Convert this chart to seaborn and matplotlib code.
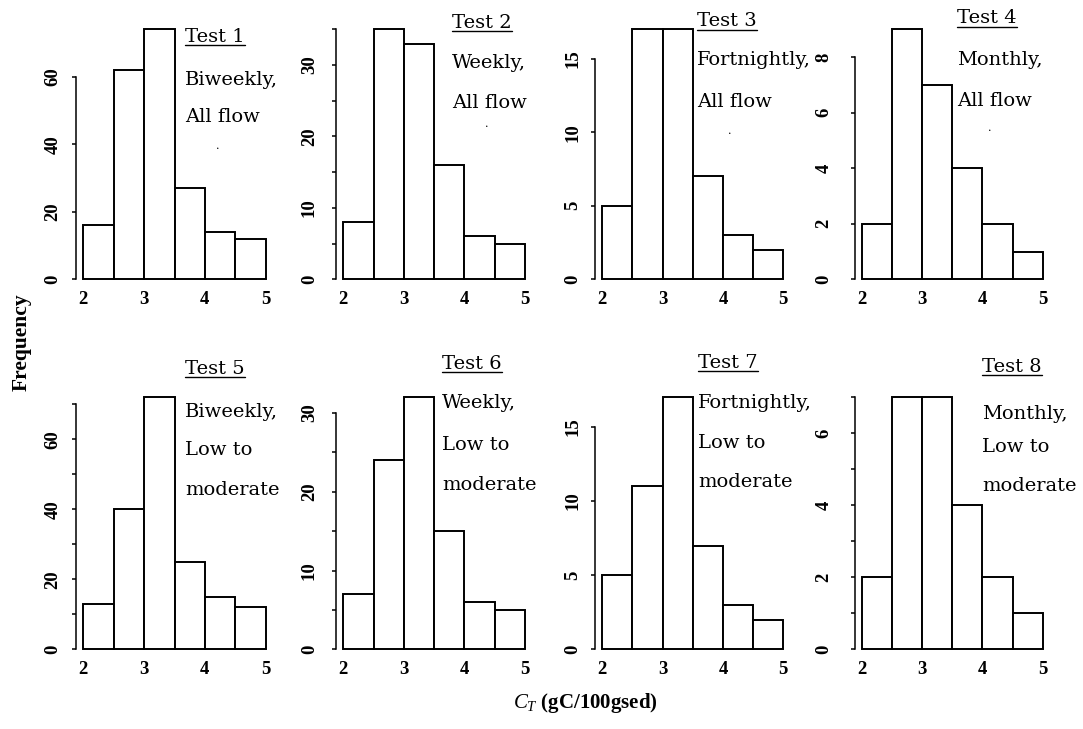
import matplotlib
matplotlib.use("Agg")
import numpy as np
import seaborn as sns
import matplotlib.pyplot as plt
from matplotlib.lines import Line2D

# ---- data -------------------------------------------------------------
bin_edges = [2.0, 2.5, 3.0, 3.5, 4.0, 4.5, 5.0]
x_tick_values = [2, 3, 4, 5]

test1 = [16, 62, 74, 27, 14, 12]
test2 = [8, 35, 33, 16, 6, 5]
test3 = [5, 17, 17, 7, 3, 2]
test4 = [2, 9, 7, 4, 2, 1]
test5 = [13, 40, 72, 25, 15, 12]
test6 = [7, 24, 32, 15, 6, 5]
test7 = [5, 11, 17, 7, 3, 2]
test8 = [2, 7, 7, 4, 2, 1]
counts = [test1, test2, test3, test4, test5, test6, test7, test8]

titles = ["Test 1", "Test 2", "Test 3", "Test 4",
          "Test 5", "Test 6", "Test 7", "Test 8"]
notes = [["Biweekly,", "All flow"], ["Weekly,", "All flow"],
         ["Fortnightly,", "All flow"], ["Monthly,", "All flow"],
         ["Biweekly,", "Low to", "moderate"], ["Weekly,", "Low to", "moderate"],
         ["Fortnightly,", "Low to", "moderate"], ["Monthly,", "Low to", "moderate"]]

# y axis: tick step, label step and last tick of each panel
y_tick_step = [20, 5, 5, 2, 10, 5, 5, 1]
y_label_step = [20, 10, 5, 2, 20, 10, 5, 2]
y_tick_top = [60, 35, 15, 8, 70, 30, 15, 7]

# ---- layout (pixels) --------------------------------------------------
W, H = 1083, 729
col_x_lo = [83.3, 343.3, 602.3, 862.0]     # where x = 2 falls
col_x_hi = [265.7, 525.0, 783.3, 1042.7]   # where x = 5 falls
row_zero = [279.3, 649.3]                  # where count = 0 falls
row_top = [29.3, 397.3]                    # top of the tallest bar
ylab_pad = [8.0, 10.5, 7.5, 13.5]          # points

text_x = [185, 452, 697, 957, 185, 442, 698, 982]
title_base = [41.5, 27.5, 26.0, 23.0, 373.5, 368.5, 367.5, 371.5]
note_base = [[85, 121.7], [68.3, 108.3], [65, 107], [65, 106],
             [416.7, 455, 495], [408.3, 450, 490],
             [408.3, 448.3, 486.7], [419, 452, 491]]
dot_pos = [(218, 145.7), (487, 124), (730, 130.7), (990, 127.7)]

sns.set_theme(style="white")
plt.rcParams["font.family"] = ["Liberation Serif", "DejaVu Serif"]
plt.rcParams["mathtext.fontset"] = "custom"
plt.rcParams["mathtext.it"] = "Liberation Serif:italic"
plt.rcParams["mathtext.rm"] = "Liberation Serif:bold"
plt.rcParams["text.color"] = "black"
plt.rcParams["xtick.color"] = "black"
plt.rcParams["ytick.color"] = "black"

fig = plt.figure(figsize=(W / 100, H / 100), dpi=100)
fig.patch.set_facecolor("white")


def fx(x):
    return x / W


def fy(y):
    return 1 - y / H


centers = [(a + b) / 2 for a, b in zip(bin_edges[:-1], bin_edges[1:])]
lo, hi = bin_edges[0], bin_edges[-1]
xpad = 0.04 * (hi - lo)

for i, cnt in enumerate(counts):
    r, c = divmod(i, 4)
    scale = (col_x_hi[c] - col_x_lo[c]) / (hi - lo)
    left = col_x_lo[c] - xpad * scale
    width = (hi - lo + 2 * xpad) * scale
    span = row_zero[r] - row_top[r]
    bottom = row_zero[r] + 0.04 * span
    ax = fig.add_axes([fx(left), fy(bottom), width / W, span * 1.08 / H])
    ax.set_facecolor("none")

    sns.histplot(x=centers, weights=cnt, bins=bin_edges, ax=ax,
                 color="white", edgecolor="black", linewidth=1.4, alpha=1)

    m = max(cnt)
    ax.set_xlim(lo - xpad, hi + xpad)
    ax.set_ylim(-0.04 * m, 1.04 * m)
    ax.set_xlabel("")
    ax.set_ylabel("")

    for side in ["top", "right", "bottom"]:
        ax.spines[side].set_visible(False)
    ax.spines["left"].set_visible(True)
    ax.spines["left"].set_color("black")
    ax.spines["left"].set_linewidth(1.1)
    ax.spines["left"].set_bounds(0, y_tick_top[i])

    yt = np.arange(0, y_tick_top[i] + 0.5 * y_tick_step[i], y_tick_step[i])
    ax.set_yticks(yt)
    ax.set_yticklabels([f"{v:g}" if v % y_label_step[i] == 0 else "" for v in yt],
                       rotation=90, va="center", fontweight="bold", fontsize=13.5)
    ax.tick_params(axis="y", left=True, length=2.6, width=1.1,
                   direction="out", pad=ylab_pad[c])

    ax.set_xticks(x_tick_values)
    ax.set_xticklabels([str(v) for v in x_tick_values],
                       fontweight="bold", fontsize=13.5)
    ax.tick_params(axis="x", bottom=True, length=0, pad=1.5)

# ---- panel notes ------------------------------------------------------
title_texts = []
for i in range(8):
    t = fig.text(fx(text_x[i]), fy(title_base[i]), titles[i],
                 family="DejaVu Serif", fontsize=14, va="baseline", ha="left")
    title_texts.append((t, title_base[i]))
    for line, yb in zip(notes[i], note_base[i]):
        fig.text(fx(text_x[i]), fy(yb), line, family="DejaVu Serif",
                 fontsize=14, va="baseline", ha="left")

for (dx, dy) in dot_pos:
    fig.text(fx(dx), fy(dy), ".", family="DejaVu Serif", fontsize=8,
             ha="center", va="center")

# shared axis labels
fig.text(fx(22), fy(342), "Frequency", rotation=90, fontweight="bold",
         fontsize=15.5, ha="center", va="center")
fig.text(fx(585), fy(703), r"$\mathit{C}_{\mathit{T}}$ (gC/100gsed)",
         fontweight="bold", fontsize=15, ha="center", va="center")

# underline each test title
fig.canvas.draw()
renderer = fig.canvas.get_renderer()
for t, yb in title_texts:
    bb = t.get_window_extent(renderer)
    yl = fy(yb + 3.5)
    fig.add_artist(Line2D([bb.x0 / W, bb.x1 / W], [yl, yl],
                          transform=fig.transFigure, color="black", lw=1.0))

fig.savefig("out.png", dpi=100, facecolor="white")
